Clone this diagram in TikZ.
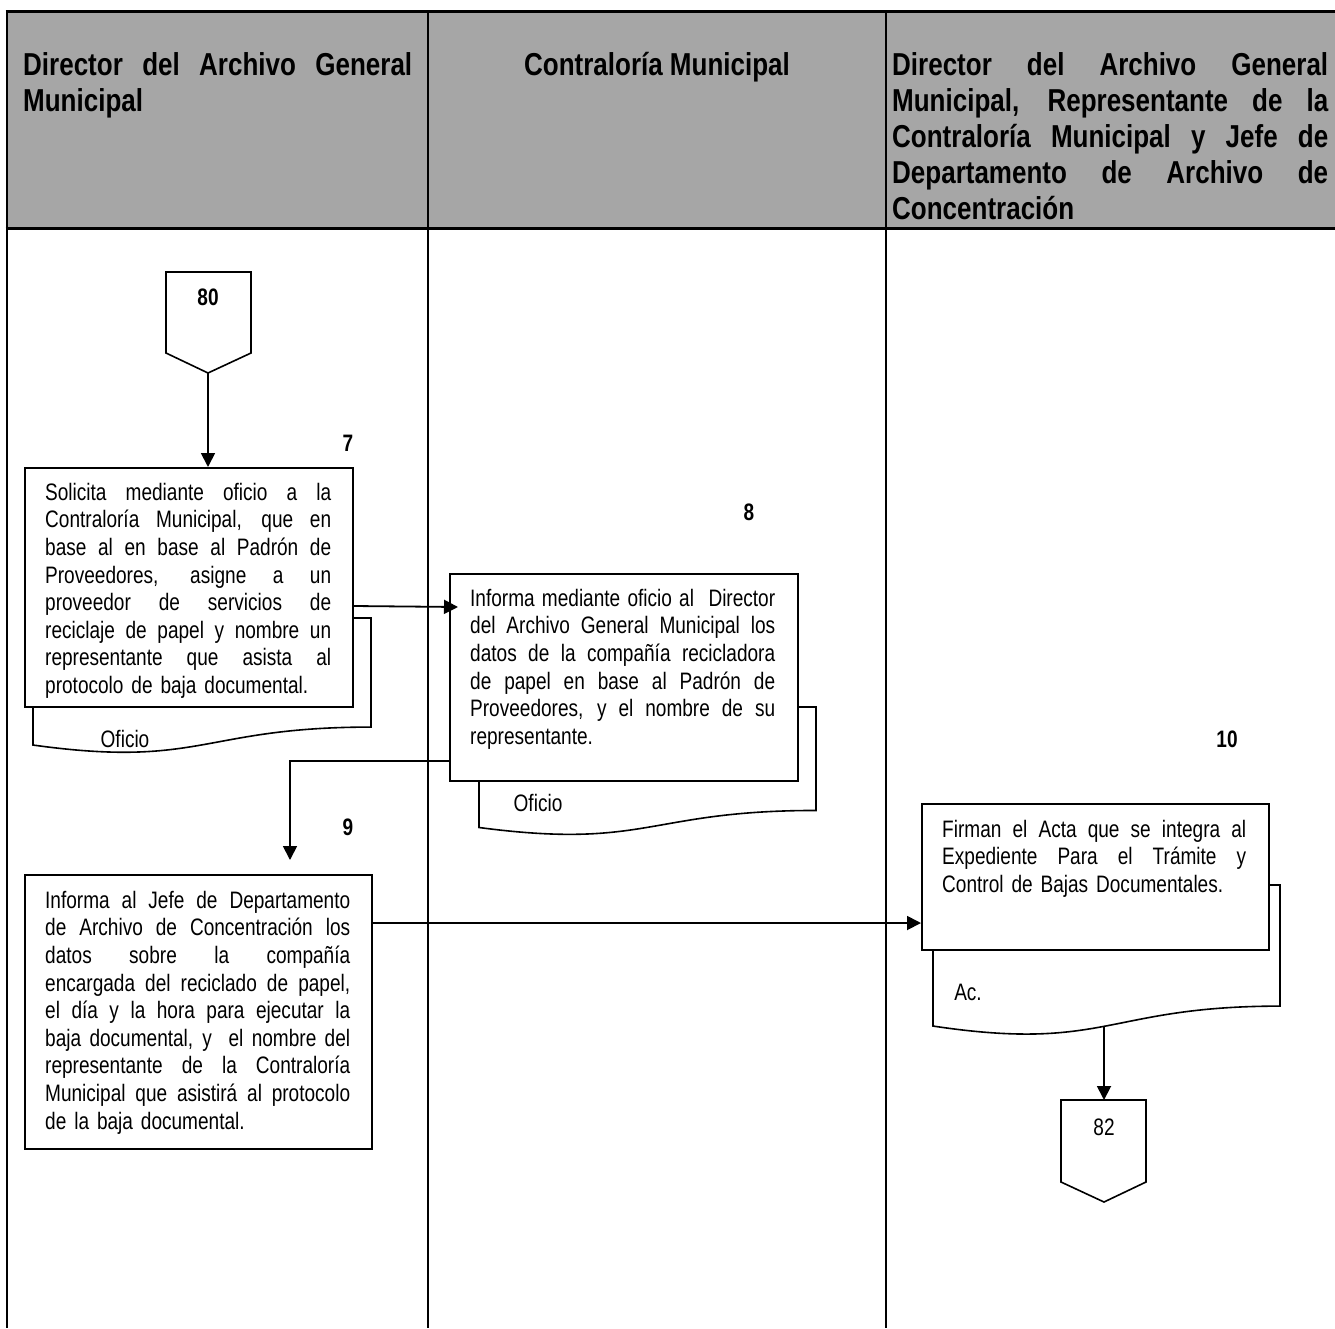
\documentclass[tikz,border=0pt]{standalone}
\usepackage{fontspec}
\setmainfont{Liberation Sans}[FakeStretch=0.82]
\newfontfamily\bodyfam{Liberation Sans}[FakeStretch=0.80]
\usetikzlibrary{arrows.meta,calc}
\setlength\parindent{0pt}
\definecolor{hdrgray}{RGB}{166,166,166}
% one justified line (interword spaces stretched to the full width)
\newcommand\jl[1]{{\spaceskip=\fontdimen2\font plus 1fil\relax\parfillskip=0pt\relax #1\par}}
% one line at natural width (last line of a paragraph)
\newcommand\nl[1]{#1\par}
\newcommand\bodyfont{\bodyfam\fontsize{23.8}{27.6}\selectfont}
\newcommand\headfont{\fontsize{31.7}{36}\selectfont\bfseries}
\begin{document}
\begin{tikzpicture}[x=1pt,y=-1pt,
  frame/.style={line width=2.4pt},
  hline/.style={line width=3pt},
  procbox/.style={draw, line width=1.8pt, fill=white, inner sep=0pt, anchor=north west},
  bodytxt/.style={inner sep=0pt, anchor=north west, font=\bodyfont},
  headtxt/.style={inner sep=0pt, anchor=north west, font=\headfont},
  flow/.style={line width=1.8pt, -{Triangle[length=14pt,width=14pt]}},
  docline/.style={line width=1.6pt, fill=white, line join=miter},
  conn/.style={line width=1.6pt, fill=white, line join=miter},
  num/.style={font=\bodyfam\fontsize{23.8}{28}\selectfont\bfseries, inner sep=0pt},
  lbl/.style={font=\bodyfont, inner sep=0pt}]
\useasboundingbox (0,0) rectangle (1335,1328);
% header
\fill[hdrgray] (7,11) rectangle (1335,228);
\draw[hline] (5.5,11) -- (1335,11);
\draw[hline] (5.5,228) -- (1335,228);
\draw[frame] (7,11) -- (7,1328);
\draw[frame] (428,11) -- (428,1328);
\draw[frame] (886,11) -- (886,1328);
\node[headtxt, text width=389pt] (h1) at (23,47) {\jl{\rule{0pt}{28pt}Director del Archivo General}\nl{Municipal}};
\node[font=\headfont, inner sep=0pt, anchor=base] (h2) at (657,75) {Contraloría Municipal};
\node[headtxt, text width=436pt] (h3) at (892,47) {\jl{\rule{0pt}{28pt}Director del Archivo General}\jl{Municipal, Representante de la}\jl{Contraloría Municipal y Jefe de}\jl{Departamento de Archivo de}\nl{Concentración}};
% off-page connector 80
\draw[conn] (166,272) -- (251,272) -- (251,353) -- (208,373) -- (166,353) -- cycle;
\coordinate (c80) at (208,373);
\node[num] (n80) at (208,297) {80};
% documents behind boxes
\newcommand\docshape[4]{\draw[docline] (#3,#2) -- (#3,{#2+0.802*#4}) .. controls ({(#1+#3)/2},{#2+0.802*#4}) and ({(#1+#3)/2},{#2+1.107*#4}) .. (#1,{#2+0.934*#4}) -- (#1,#2) -- cycle;}
\docshape{33}{618}{371}{136}
\docshape{479}{707}{816}{129}
\docshape{933}{885}{1280}{151}
\coordinate (d10) at (1104,1026);
% boxes
\node[procbox, minimum width=328pt, minimum height=239pt] (b7) at (24,467) {};
\node[procbox, minimum width=348pt, minimum height=207pt] (b8) at (449,573) {};
\node[procbox, minimum width=347pt, minimum height=274pt] (b9) at (24,874) {};
\node[procbox, minimum width=347pt, minimum height=146pt] (b10) at (921,803) {};
\node[bodytxt, text width=286pt] (t7) at (45,476) {\jl{\rule{0pt}{24pt}Solicita mediante oficio a la}\jl{Contraloría Municipal, que en}\jl{base al en base al Padrón de}\jl{Proveedores, asigne a un}\jl{proveedor de servicios de}\jl{reciclaje de papel y nombre un}\jl{representante que asista al}\nl{protocolo de baja documental.}};
\node[bodytxt, text width=305pt] (t8) at (470,582) {\jl{\rule{0pt}{24pt}Informa mediante oficio al {}{} Director}\jl{del Archivo General Municipal los}\jl{datos de la compañía recicladora}\jl{de papel en base al Padrón de}\jl{Proveedores, y el nombre de su}\nl{representante.}};
\node[bodytxt, text width=305pt] (t9) at (45,884) {\jl{\rule{0pt}{24pt}Informa al Jefe de Departamento}\jl{de Archivo de Concentración los}\jl{datos sobre la compañía}\jl{encargada del reciclado de papel,}\jl{el día y la hora para ejecutar la}\jl{baja documental, y {}{} el nombre del}\jl{representante de la Contraloría}\jl{Municipal que asistirá al protocolo}\nl{de la baja documental.}};
\node[bodytxt, text width=304pt] (t10) at (942,813) {\jl{\rule{0pt}{24pt}Firman el Acta que se integra al}\jl{Expediente Para el Trámite y}\nl{Control de Bajas Documentales.}};
% labels
\node[lbl] (o7) at (125,739) {Oficio};
\node[lbl] (o8) at (538,803) {Oficio};
\node[lbl] (ac) at (968,992) {Ac.};
\node[num] (s7) at (348,443) {7};
\node[num] (s8) at (749,512) {8};
\node[num] (s9) at (348,827) {9};
\node[num] (s10) at (1227,739) {10};
% off-page connector 82
\draw[conn] (1061,1100) -- (1146,1100) -- (1146,1182) -- (1104,1202) -- (1061,1182) -- cycle;
\coordinate (c82) at (1104,1100);
\node[font=\bodyfont, inner sep=0pt] (n82) at (1104,1127) {82};
% connectors
\draw[flow] (c80) -- (c80 |- b7.north);
\draw[flow] ($(b7.north east)+(0,139)$) -- ($(b8.north west)+(9,34)$);
\draw[flow] ($(b8.north west)+(0,188)$) -| ($(b9.north west)+(266,-14)$);
\draw[flow] ($(b9.north east)+(0,49)$) -- ($(b10.north west)+(0,120)$);
\draw[flow] (d10) -- (c82);
\end{tikzpicture}
\end{document}
